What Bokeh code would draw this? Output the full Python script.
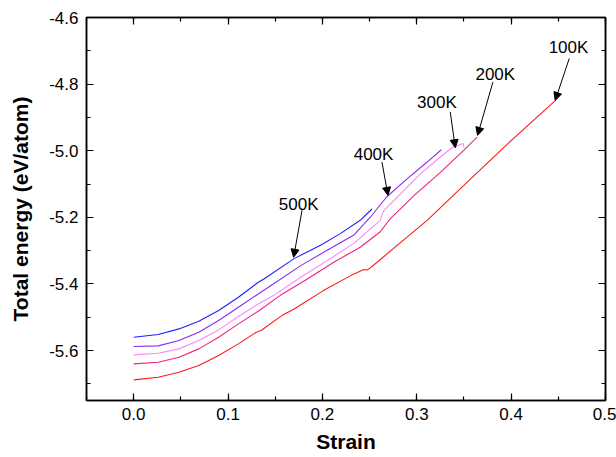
from bokeh.plotting import figure
from bokeh.models import (LinearAxis, SingleIntervalTicker, NumeralTickFormatter,
                          CustomJSTickFormatter, Range1d, Arrow, NormalHead, ColumnDataSource)
from bokeh.core.properties import value
from bokeh.embed import file_html
from bokeh.resources import INLINE

# ---- data ----
strain_500 = [0.0, 0.026, 0.048, 0.069, 0.090, 0.111, 0.132, 0.138, 0.170, 0.198, 0.219, 0.240, 0.2525]
energy_500 = [-5.560, -5.552, -5.535, -5.512, -5.480, -5.440, -5.395, -5.385, -5.324, -5.284, -5.249, -5.209, -5.175]

strain_400 = [0.0, 0.026, 0.048, 0.069, 0.090, 0.111, 0.132, 0.148, 0.177, 0.205, 0.233, 0.251, 0.268, 0.290, 0.311, 0.326]
energy_400 = [-5.588, -5.586, -5.570, -5.545, -5.510, -5.470, -5.430, -5.400, -5.345, -5.299, -5.254, -5.199, -5.139, -5.084, -5.034, -4.997]

strain_300 = [0.0, 0.026, 0.048, 0.069, 0.090, 0.111, 0.132, 0.148, 0.177, 0.205, 0.233, 0.261, 0.265, 0.283, 0.304, 0.325, 0.337, 0.349, 0.350]
energy_300 = [-5.613, -5.608, -5.595, -5.570, -5.538, -5.498, -5.460, -5.435, -5.380, -5.330, -5.279, -5.210, -5.180, -5.129, -5.069, -5.019, -4.992, -4.978, -4.990]

strain_200 = [0.0, 0.026, 0.048, 0.069, 0.090, 0.111, 0.132, 0.155, 0.184, 0.212, 0.240, 0.261, 0.272, 0.297, 0.325, 0.345, 0.364]
energy_200 = [-5.640, -5.635, -5.620, -5.595, -5.560, -5.520, -5.482, -5.435, -5.385, -5.335, -5.290, -5.244, -5.204, -5.135, -5.065, -5.012, -4.959]

strain_100 = [0.0, 0.026, 0.048, 0.069, 0.090, 0.111, 0.130, 0.135, 0.157, 0.170, 0.201, 0.230, 0.244, 0.248, 0.258, 0.283, 0.311, 0.344, 0.396, 0.447]
energy_100 = [-5.688, -5.680, -5.665, -5.645, -5.615, -5.580, -5.545, -5.540, -5.495, -5.475, -5.420, -5.375, -5.357, -5.358, -5.335, -5.275, -5.209, -5.120, -4.980, -4.849]

temperatures = ["500K", "400K", "300K", "200K", "100K"]
colors = ["#1f1fff", "#8a2cf2", "#ff85ff", "#f0247f", "#ff1a1a"]

# annotation label positions (data coords) and arrow start/end
label_x = [0.1748, 0.2542, 0.3214, 0.3832, 0.4608]
label_y = [-5.161, -5.012, -4.854, -4.770, -4.690]
arrow_x0 = [0.1784, 0.2631, 0.3355, 0.3807, 0.4616]
arrow_y0 = [-5.179, -5.034, -4.884, -4.794, -4.723]
arrow_x1 = [0.1695, 0.2695, 0.3408, 0.3644, 0.4467]
arrow_y1 = [-5.320, -5.134, -4.991, -4.954, -4.849]

x_ticks_interval = 0.1
y_ticks_interval = 0.2

FONT = "Liberation Sans"

p = figure(width=616, height=457, output_backend="svg", toolbar_location=None,
           x_range=Range1d(-0.05, 0.5), y_range=Range1d(-5.75, -4.6),
           min_border_left=86, min_border_right=11, min_border_top=17, min_border_bottom=57,
           x_axis_label="Strain", y_axis_label="Total energy (eV/atom)")
p.grid.visible = False
p.outline_line_color = "black"
p.outline_line_width = 1.5
p.background_fill_color = "white"
p.border_fill_color = "white"

series = [(strain_500, energy_500), (strain_400, energy_400), (strain_300, energy_300),
          (strain_200, energy_200), (strain_100, energy_100)]
for (xs, ys), c in zip(series, colors):
    p.line(xs, ys, line_color=c, line_width=1.1)

def style_axis(ax):
    ax.axis_line_width = 1.5
    ax.axis_line_color = "black"
    ax.major_tick_in = 7
    ax.major_tick_out = 0
    ax.minor_tick_in = 4
    ax.minor_tick_out = 0
    ax.major_tick_line_width = 1.2
    ax.minor_tick_line_width = 1.2
    ax.major_tick_line_color = "black"
    ax.minor_tick_line_color = "black"
    ax.major_label_text_font = FONT
    ax.major_label_text_font_size = "17px"
    ax.major_label_text_color = "black"
    ax.axis_label_text_font = FONT
    ax.axis_label_text_font_size = "21px"
    ax.axis_label_text_font_style = "bold"
    ax.axis_label_text_color = "black"

xa = p.xaxis[0]
xa.ticker = SingleIntervalTicker(interval=x_ticks_interval, num_minor_ticks=2)
xa.formatter = NumeralTickFormatter(format="0.0")
style_axis(xa)
xa.major_label_standoff = 7
xa.axis_label_standoff = 7

ya = p.yaxis[0]
ya.ticker = SingleIntervalTicker(interval=y_ticks_interval, num_minor_ticks=2)
ya.formatter = NumeralTickFormatter(format="0.0")
style_axis(ya)
ya.major_label_standoff = 8
ya.axis_label_standoff = 14

blank = CustomJSTickFormatter(code="return '';")

top = LinearAxis(ticker=SingleIntervalTicker(interval=x_ticks_interval, num_minor_ticks=2),
                 formatter=blank)
style_axis(top)
top.major_label_standoff = 0
p.add_layout(top, "above")

right = LinearAxis(ticker=SingleIntervalTicker(interval=y_ticks_interval, num_minor_ticks=2),
                   formatter=blank)
style_axis(right)
right.major_label_standoff = 0
p.add_layout(right, "right")

src = ColumnDataSource(dict(x=label_x, y=label_y, t=temperatures))
p.text(x="x", y="y", text="t", source=src, text_font=value(FONT), text_font_size="17px",
       text_align="center", text_baseline="middle", text_color="black")

for x0, y0, x1, y1 in zip(arrow_x0, arrow_y0, arrow_x1, arrow_y1):
    p.add_layout(Arrow(end=NormalHead(size=8, fill_color="black", line_color="black", line_width=1),
                       x_start=x0, y_start=y0, x_end=x1, y_end=y1,
                       line_color="black", line_width=1))

open("out.html", "w").write(file_html(p, INLINE))
